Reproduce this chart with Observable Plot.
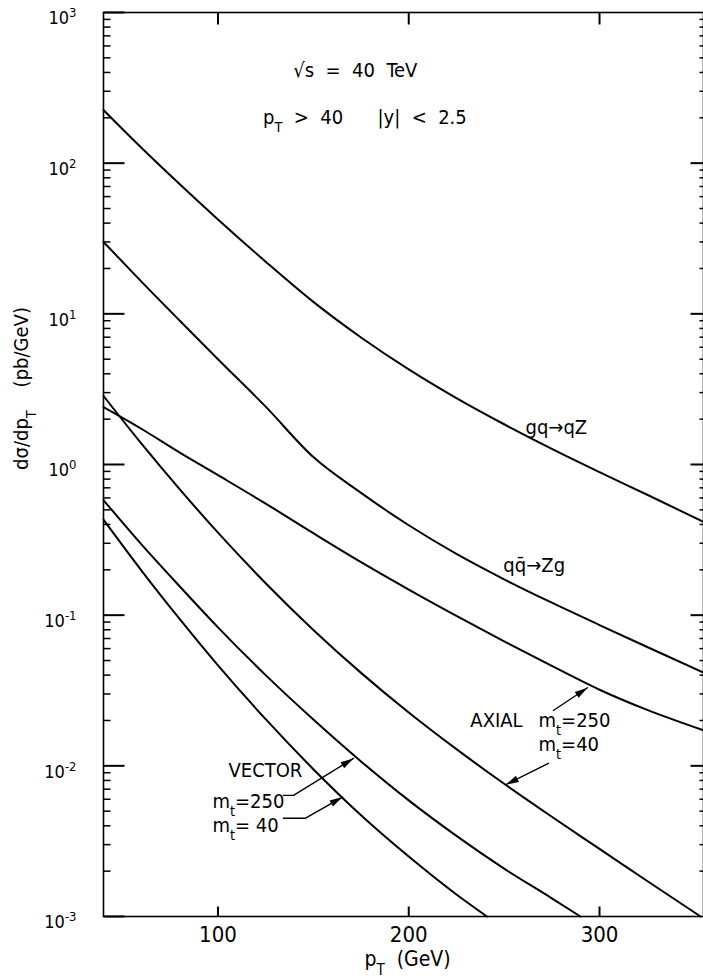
<!DOCTYPE html>
<html><head><meta charset="utf-8">
<script src="https://cdn.jsdelivr.net/npm/d3@7"></script>
<script src="https://cdn.jsdelivr.net/npm/@observablehq/plot@0.6"></script>
<style>
body{margin:0;background:#fff;}
#chart svg{font-family:"Liberation Sans Narrow","DejaVu Sans Condensed","Arial Narrow",sans-serif;}
</style></head><body><div id="chart"></div>
<script>
// ---- data ----
const pTqZ   = [40, 60, 80, 100, 125, 150, 175, 200, 225, 250, 275, 300, 325, 354.5];
const gqZ    = [225, 126, 72.4, 42.3, 22.2, 12.0, 6.97, 4.28, 2.76, 1.85, 1.27, 0.89, 0.63, 0.416];
const pTZg   = [40, 60, 80, 100, 125, 150, 175, 200, 225, 250, 275, 300, 325, 354.5];
const qqZg   = [30, 16.3, 9.0, 5.0, 2.42, 1.12, 0.648, 0.395, 0.255, 0.173, 0.121, 0.086, 0.0615, 0.0416];
const pTA250 = [40, 60, 80, 100, 125, 150, 175, 200, 225, 250, 275, 300, 325, 354.5];
const axial250 = [2.4, 1.72, 1.2, 0.85, 0.55, 0.35, 0.225, 0.148, 0.099, 0.067, 0.046, 0.032, 0.0235, 0.0172];
const pTA40  = [40, 60, 80, 100, 125, 150, 175, 200, 225, 250, 275, 300, 325, 353];
const axial40 = [2.85, 1.37, 0.684, 0.353, 0.163, 0.0798, 0.0414, 0.0226, 0.0129, 0.0076, 0.00459, 0.00281, 0.00172, 0.001];
const pTV250 = [40, 60, 80, 100, 125, 150, 175, 200, 225, 250, 275, 290];
const vector250 = [0.58, 0.294, 0.155, 0.083, 0.040, 0.0203, 0.0107, 0.0059, 0.00343, 0.00208, 0.00132, 0.001];
const pTV40  = [40, 60, 80, 100, 125, 150, 175, 200, 225, 241];
const vector40 = [0.43, 0.197, 0.094, 0.0464, 0.0204, 0.0095, 0.0047, 0.0025, 0.0014, 0.001];

const xTicks = [100, 200, 300];
const yMajor = [1e-3, 1e-2, 1e-1, 1, 10, 100, 1000];
const yMajorLabels = ["10^{-3}", "10^{-2}", "10^{-1}", "10^{0}", "10^{1}", "10^{2}", "10^{3}"];
const minorMultipliers = [2, 3, 4, 5, 6, 7, 8, 9];

// annotation texts and anchors (data coordinates)
const annotText = ["√s  =  40  TeV", "p_{T}  >  40      |y|  <  2.5", "gq→qZ", "qq̄→Zg", "AXIAL", "m_{t}=250", "m_{t}=40", "VECTOR", "m_{t}=250", "m_{t}= 40"];
const annotX    = [172, 177, 261.2, 249.6, 232.3, 268, 268, 105.5, 97.1, 97.1];
const annotY    = [412, 201, 1.76, 0.214, 0.020, 0.020, 0.0139, 0.0093, 0.0058, 0.00403];
const annotAnchor = ["middle", "middle", "start", "start", "start", "start", "start", "start", "start", "start"];

// arrows: polylines, last point is the arrow tip
const arrowV250X = [134.3, 139.6, 171];   const arrowV250Y = [0.00637, 0.00637, 0.0112];
const arrowV40X  = [134.3, 145.9, 165.3]; const arrowV40Y  = [0.00449, 0.00449, 0.0062];
const arrowA250X = [275.8, 293.7];        const arrowA250Y = [0.0233, 0.033];
const arrowA40X  = [273.2, 250.9];        const arrowA40Y  = [0.0104, 0.0075];

const yTitle = "dσ/dp_{T}    (pb/GeV)";
const xTitle = "p_{T}  (GeV)";

// ---- layout ----
const W = 703, H = 980, mL = 103, mR = 0, mT = 12, mB = 64;
const xDomain = [40, 354.5], yDomain = [1e-3, 1e3];

const yMinor = yMajor.slice(0, -1).flatMap(d => minorMultipliers.map(m => d * m));
const series = (xs, ys) => xs.map((x, i) => ({x, y: ys[i]}));
const curves = [series(pTqZ, gqZ), series(pTZg, qqZg), series(pTA250, axial250), series(pTA40, axial40), series(pTV250, vector250), series(pTV40, vector40)];
const arrows = [[arrowV250X, arrowV250Y], [arrowV40X, arrowV40Y], [arrowA250X, arrowA250Y], [arrowA40X, arrowA40Y]].map(([a, b]) => series(a, b));

// pixel helpers mirroring the plot scales (tick lengths and arrow-head orientation)
const sx = d3.scaleLinear(xDomain, [mL, W - mR]);
const sy = d3.scaleLog(yDomain, [H - mB, mT]);
const heads = arrows.map(p => {
  const a = p[p.length - 2], b = p[p.length - 1];
  const dx = sx(b.x) - sx(a.x), dy = sy(b.y) - sy(a.y);
  return {x: b.x, y: b.y, r: Math.atan2(dx, -dy) * 180 / Math.PI};
});
const xAt = px => sx.invert(px), yAt = py => sy.invert(py);
const annots = annotText.map((t, i) => ({t, x: annotX[i], y: annotY[i], a: annotAnchor[i]}));

const hTick = (data, xa, xb, sw) => Plot.link(data, {x1: () => xa, x2: () => xb, y1: d => d, y2: d => d, stroke: "#000", strokeWidth: sw});
const vTick = (data, ya, yb, sw) => Plot.link(data, {x1: d => d, x2: d => d, y1: () => ya, y2: () => yb, stroke: "#000", strokeWidth: sw});

const plot = Plot.plot({
  width: W, height: H,
  marginLeft: mL, marginRight: mR, marginTop: mT, marginBottom: mB,
  x: {type: "linear", domain: xDomain, axis: null},
  y: {type: "log", domain: yDomain, axis: null},
  style: {background: "#fff", color: "#000"},
  marks: [
    Plot.frame({stroke: "#000", strokeWidth: 1.6}),
    // inward ticks
    hTick(yMajor, xDomain[0], xAt(mL + 21), 2),
    hTick(yMinor, xDomain[0], xAt(mL + 7), 1.5),
    hTick(yMajor.slice(1, -1), xAt(W - mR - 13), xDomain[1], 2),
    hTick(yMinor, xAt(W - mR - 4), xDomain[1], 1.5),
    vTick(xTicks, yDomain[0], yAt(H - mB - 10), 2),
    vTick(xTicks, yAt(mT + 12), yDomain[1], 2),
    // tick labels
    Plot.axisX({ticks: xTicks, tickSize: 0, tickPadding: 10, fontSize: 22, label: null, tickFormat: d => String(d)}),
    Plot.axisY({ticks: yMajor, tickSize: 0, tickPadding: 27, fontSize: 18, dy: 6, label: null,
      tickFormat: d => yMajorLabels[yMajor.indexOf(d)]}),
    // curves
    ...curves.map(c => Plot.line(c, {x: "x", y: "y", stroke: "#000", strokeWidth: 2, curve: "monotone-x"})),
    // arrows
    ...arrows.map(p => Plot.line(p, {x: "x", y: "y", stroke: "#000", strokeWidth: 1.4})),
    Plot.vector(heads, {x: "x", y: "y", rotate: "r", length: 13, anchor: "end", shape: "spike", r: 3.5, fill: "#000", stroke: "none"}),
    // annotation texts
    Plot.text(annots.filter(d => d.a === "middle"), {x: "x", y: "y", text: "t", textAnchor: "middle", fontSize: 20}),
    Plot.text(annots.filter(d => d.a === "start"), {x: "x", y: "y", text: "t", textAnchor: "start", fontSize: 20}),
    // axis titles
    Plot.text([yTitle], {x: [xAt(21)], y: [yAt(388)], rotate: -90, fontSize: 20}),
    Plot.text([xTitle], {x: [xAt(407)], y: [yAt(959)], fontSize: 21})
  ]
});

function markup(s) {
  const esc = s.replace(/&/g, "&amp;").replace(/</g, "&lt;").replace(/>/g, "&gt;");
  return esc
    .replace(/\^\{([^}]*)\}/g, '<tspan baseline-shift="super" font-size="72%">$1</tspan>')
    .replace(/_\{([^}]*)\}/g, '<tspan baseline-shift="sub" font-size="72%">$1</tspan>');
}
plot.querySelectorAll("text").forEach(t => {
  if (/[\^_]\{/.test(t.textContent)) t.innerHTML = markup(t.textContent);
  t.setAttribute("xml:space", "preserve");
  t.style.whiteSpace = "pre";
});
document.getElementById("chart").appendChild(plot);
</script>
</body></html>
